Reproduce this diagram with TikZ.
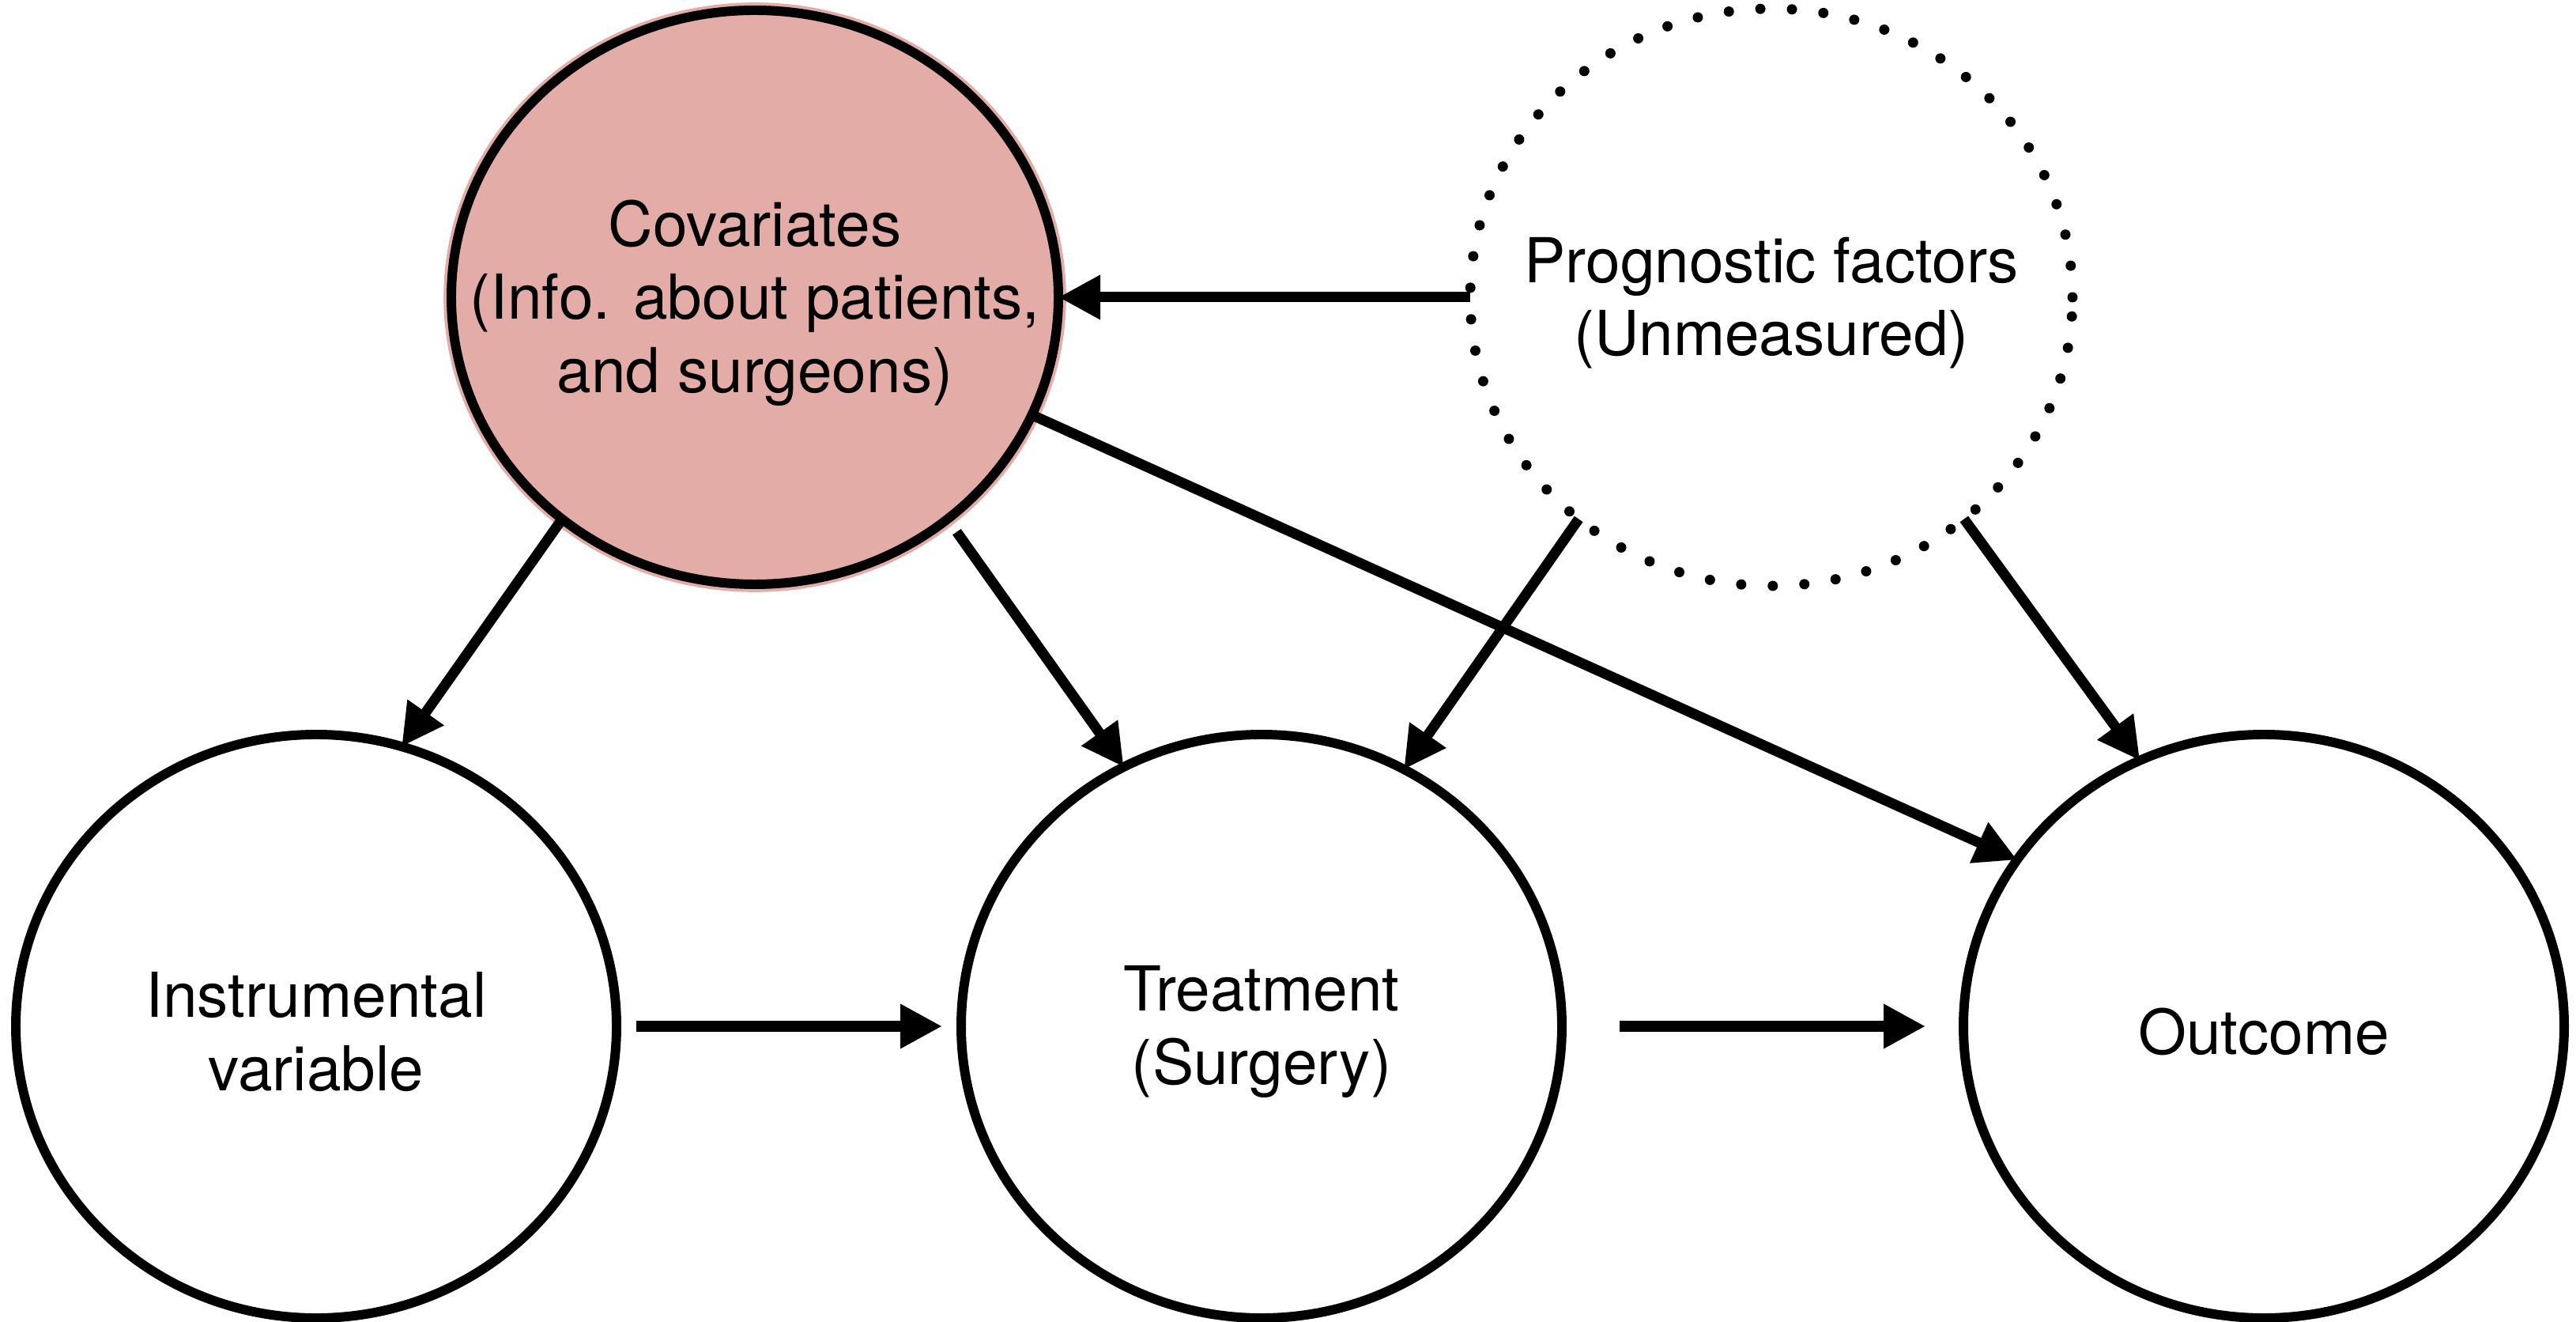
\documentclass[tikz,border=0pt]{standalone}
\usepackage{fontspec}
\setmainfont{TeX Gyre Heros}
\usetikzlibrary{arrows.meta, positioning, shapes.geometric}
\definecolor{covpink}{HTML}{E4ACA6}

\begin{document}
\begin{tikzpicture}[
        var/.style={ellipse, draw, line width=3.4pt, outer sep=0pt, inner sep=0pt,
            minimum width=7.6cm, minimum height=7.38cm,
            label={[name=#1 text, yshift=-2pt, align=center, font=\fontsize{22.3}{26.3}\selectfont]center:{\varlabel}}},
        covbox/.style={var=#1, minimum width=7.68cm, minimum height=7.26cm,
            fill=covpink, preaction={draw=covpink, line width=5.6pt}},
        progbox/.style={var=#1, minimum width=7.62cm, minimum height=7.30cm,
            line width=0.13cm, line cap=round, dash pattern=on 0pt off 0.4cm},
        link/.style={-{Triangle[length=0.53cm, width=0.53cm]}, line width=0.13cm}
    ]
        \useasboundingbox (0,0) rectangle (32.59,16.71);
        \def\varlabel{Instrumental\\variable}
        \node[var=inst] (inst) at (4.00,3.73) {};
        \def\varlabel{Treatment\\(Surgery)}
        \node[var=treat] (treat) [right=4.36cm of inst] {};
        \def\varlabel{Outcome}
        \node[var=out] (out) [right=5.08cm of treat] {};
        \def\varlabel{Covariates\\(Info. about patients,\\and surgeons)}
        \node[covbox=cov] (cov) at (9.55,12.95) {};
        \def\varlabel{Prognostic factors\\(Unmeasured)}
        \node[progbox=prog] (prog) [right=5.21cm of cov] {};
        \draw[link] (prog) -- (cov);
        \draw[link] (cov.229) -- (inst.73);
        \draw[link, shorten <=0.2cm] (cov.311) -- (treat.118);
        \draw[link] (cov.337) -- (out.146);
        \draw[link] (prog.229) -- (treat.61);
        \draw[link] (prog.311) -- (out.115);
        \draw[link, shorten <=0.25cm, shorten >=0.24cm] (inst) -- (treat);
        \draw[link, shorten <=0.73cm, shorten >=0.48cm] (treat) -- (out);
    \end{tikzpicture}
\end{document}
